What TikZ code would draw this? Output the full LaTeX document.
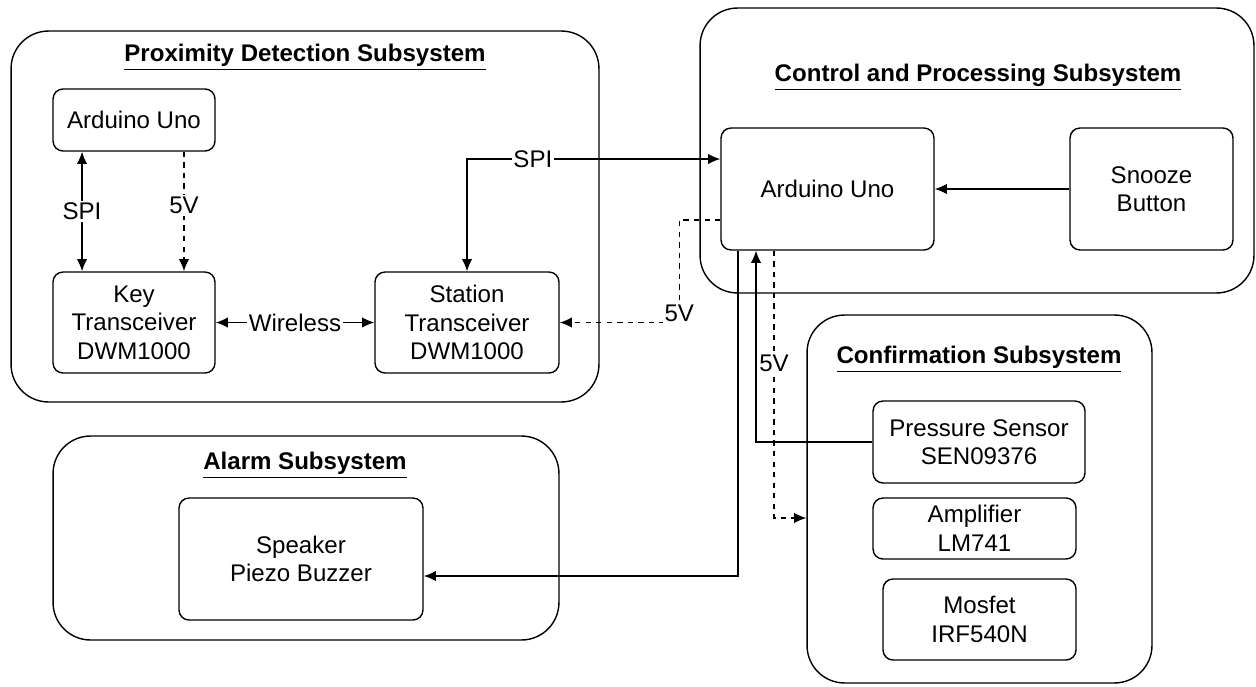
\documentclass[tikz,border=0pt]{standalone}
\usepackage{fontspec}
\setmainfont{Liberation Sans}
\usetikzlibrary{arrows.meta,positioning}
\tikzset{>={Latex[length=7pt,width=6pt]}}
\tikzset{
  part/.style={draw,thick,rounded corners=0.2cm,align=center,inner sep=0pt,
    font=\fontsize{13.7}{16.2}\selectfont},
  subsys/.style={draw,thick,rounded corners=0.75cm,inner sep=0pt},
  ttl/.style={font=\fontsize{13.7}{16.2}\selectfont\bfseries},
  lbl/.style={fill=white,inner sep=1pt,font=\fontsize{13.7}{16}\selectfont},
}

\begin{document}
\begin{tikzpicture}[x=0.02cm,y=-0.02cm,thick]
\useasboundingbox (0,0) rectangle (1256,686);

% subsystems
\node[subsys,minimum width=11.76cm,minimum height=7.42cm] (proxbox) at (305,216.5) {};
\node[subsys,minimum width=11.08cm,minimum height=5.70cm] (ctrlbox) at (977,150.5) {};
\node[subsys,minimum width=6.90cm,minimum height=7.36cm] (confbox) at (979.5,499) {};
\node[subsys,minimum width=10.12cm,minimum height=4.08cm] (alarmbox) at (306,538) {};

\node[ttl] (proxttl) at (305,57) {\underline{Proximity Detection Subsystem}};
\node[ttl] (ctrlttl) at (978,77) {\underline{Control and Processing Subsystem}};
\node[ttl] (confttl) at (979,359) {\underline{Confirmation Subsystem}};
\node[ttl] (alarmttl) at (305,465) {\underline{Alarm Subsystem}};

% parts
\node[part,minimum width=3.24cm,minimum height=1.24cm] (ardP) at (134,120) {Arduino Uno};
\node[part,minimum width=3.24cm,minimum height=2.02cm] (key) at (134,322.5) {Key\\Transceiver\\DWM1000};
\node[part,minimum width=3.68cm,minimum height=2.02cm] (stn) at (467,322.5) {Station\\Transceiver\\DWM1000};
\node[part,minimum width=4.26cm,minimum height=2.44cm] (ardC) at (827.5,189) {Arduino Uno};
\node[part,minimum width=3.26cm,minimum height=2.44cm] (snz) at (1151.5,189) {Snooze\\Button};
\node[part,minimum width=4.24cm,minimum height=1.64cm] (pres) at (979,442) {Pressure Sensor\\SEN09376};
\node[part,minimum width=4.06cm,minimum height=1.22cm] (amp) at (974.5,528.5) {Amplifier\\LM741};
\node[part,minimum width=3.86cm,minimum height=1.62cm] (mos) at (979.5,619.5) {Mosfet\\IRF540N};
\node[part,minimum width=4.88cm,minimum height=2.44cm] (spk) at (301,559) {Speaker\\Piezo Buzzer};

% links
\draw[<->] ([xshift=-1.04cm]ardP.south) -- node[lbl]{SPI} ([xshift=-1.04cm]key.north);
\draw[->,dashed] ([xshift=1.0cm]ardP.south) -- node[lbl,pos=0.45]{5V} ([xshift=1.0cm]key.north);
\draw[<->] (key.east) -- node[lbl]{Wireless} (stn.west);
\draw[<->] ([yshift=0.6cm]ardC.west) -| node[lbl,pos=0.37]{SPI} (stn.north);
\draw[->,dashed] ([yshift=-0.62cm]ardC.west) -- ++(-41,0) |- node[lbl,pos=0.5,yshift=5pt]{5V} (stn.east);
\draw[->] (snz.west) -- (ardC.east);
\draw[->] ([xshift=-1.79cm]ardC.south) |- ([yshift=-0.34cm]spk.east);
\draw[->] (pres.west) -| ([xshift=-1.43cm]ardC.south);
\draw[->,dashed] ([xshift=-1.07cm]ardC.south) |- node[lbl,pos=0.21]{5V} ([yshift=-0.38cm]confbox.west);
\end{tikzpicture}
\end{document}
